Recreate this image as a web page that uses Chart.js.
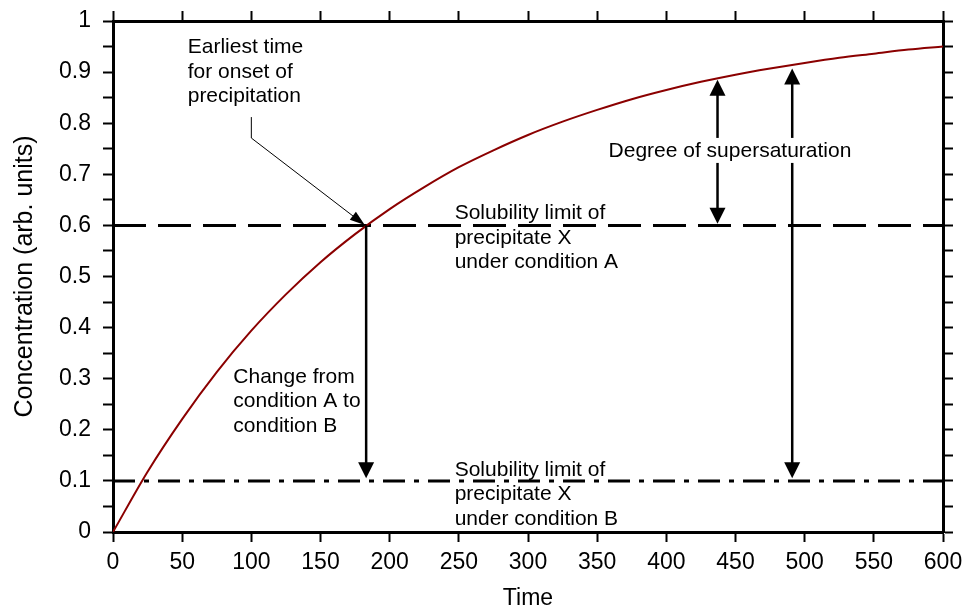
<!DOCTYPE html>
<html>
<head>
<meta charset="utf-8">
<script src="https://cdn.jsdelivr.net/npm/chart.js@4.4.0/dist/chart.umd.min.js"></script>
<style>
  html, body { margin: 0; padding: 0; background: #fff; }
  #wrap { width: 965px; height: 609px; }
</style>
</head>
<body>
<div id="wrap"><canvas id="chart"></canvas></div>
<script>
// ─── Data ─────────────────────────────────────────────────────
const timeValues = [0, 25, 50, 75, 100, 125, 150, 175, 200, 225, 250, 275, 300,
                    325, 350, 375, 400, 425, 450, 475, 500, 525, 550, 575, 600];
const concValues = [0, 0.118, 0.221, 0.313, 0.394, 0.465, 0.528, 0.583, 0.632, 0.675,
                    0.714, 0.747, 0.777, 0.803, 0.826, 0.847, 0.865, 0.881, 0.895,
                    0.907, 0.918, 0.928, 0.936, 0.944, 0.950];

const limitA = 0.6;   // solubility limit, condition A
const limitB = 0.1;   // solubility limit, condition B

const xRange = [0, 600];
const yRange = [0, 1];
const xTickStep = 50;
const yTickStep = 0.05;   // labels every 0.1

// arrows: [time, from, to]
const changeArrow = [183, 0.6, 0.105];
const superArrows = [[437, 0.603, 0.885], [491, 0.105, 0.907]];
// leader line from the "earliest time" note to the crossing point
const leaderX = [100, 100, 182];
const leaderY = [0.812, 0.771, 0.601];

const FONT = "'Liberation Sans', Arial, Helvetica, sans-serif";

// ─── Annotation texts (anchor = left end of first baseline) ──
const notes = [
  { lines: ['Earliest time', 'for onset of', 'precipitation'], x: 54, y: 0.937 },
  { lines: ['Solubility limit of', 'precipitate X', 'under condition A'], x: 247, y: 0.612 },
  { lines: ['Change from', 'condition A to', 'condition B'], x: 87, y: 0.292 },
  { lines: ['Solubility limit of', 'precipitate X', 'under condition B'], x: 247, y: 0.11 },
];
const superLabel = { text: 'Degree of supersaturation', x: 446, y: 0.734 };

function drawHead(ctx, x1, y1, x2, y2, len, half) {
  const a = Math.atan2(y2 - y1, x2 - x1);
  ctx.beginPath();
  ctx.moveTo(x2, y2);
  ctx.lineTo(x2 - len * Math.cos(a) + half * Math.sin(a), y2 - len * Math.sin(a) - half * Math.cos(a));
  ctx.lineTo(x2 - len * Math.cos(a) - half * Math.sin(a), y2 - len * Math.sin(a) + half * Math.cos(a));
  ctx.closePath();
  ctx.fill();
}

function drawArrow(ctx, x1, y1, x2, y2, both) {
  const len = 16, half = 8;
  const a = Math.atan2(y2 - y1, x2 - x1);
  const sx = both ? x1 + (len - 2) * Math.cos(a) : x1;
  const sy = both ? y1 + (len - 2) * Math.sin(a) : y1;
  ctx.beginPath();
  ctx.moveTo(sx, sy);
  ctx.lineTo(x2 - (len - 2) * Math.cos(a), y2 - (len - 2) * Math.sin(a));
  ctx.stroke();
  drawHead(ctx, x1, y1, x2, y2, len, half);
  if (both) drawHead(ctx, x2, y2, x1, y1, len, half);
}

const notesPlugin = {
  id: 'notes',
  afterDatasetsDraw(chart) {
    const { ctx, scales: { x, y } } = chart;
    ctx.save();
    ctx.strokeStyle = '#000';
    ctx.fillStyle = '#000';
    ctx.lineWidth = 2.5;

    // change arrow A -> B
    const cx = x.getPixelForValue(changeArrow[0]);
    drawArrow(ctx, cx, y.getPixelForValue(changeArrow[1]), cx, y.getPixelForValue(changeArrow[2]), false);

    // supersaturation arrows
    superArrows.forEach(([t, lo, hi]) => {
      const px = x.getPixelForValue(t);
      drawArrow(ctx, px, y.getPixelForValue(lo), px, y.getPixelForValue(hi), true);
    });

    // leader line
    ctx.lineWidth = 1;
    const lp = leaderX.map((v, i) => [x.getPixelForValue(v), y.getPixelForValue(leaderY[i])]);
    ctx.beginPath();
    ctx.moveTo(lp[0][0], lp[0][1]);
    ctx.lineTo(lp[1][0], lp[1][1]);
    ctx.lineTo(lp[2][0] - 10, lp[2][1] - 7.5);
    ctx.stroke();
    drawHead(ctx, lp[1][0], lp[1][1], lp[2][0], lp[2][1], 15, 5);

    // texts
    ctx.font = `21px ${FONT}`;
    ctx.textAlign = 'left';
    ctx.textBaseline = 'alphabetic';
    notes.forEach(n => {
      const px = x.getPixelForValue(n.x);
      const py = y.getPixelForValue(n.y);
      n.lines.forEach((l, i) => ctx.fillText(l, px, py + i * 24.5));
    });

    const sx = x.getPixelForValue(superLabel.x);
    const sy = y.getPixelForValue(superLabel.y);
    const w = ctx.measureText(superLabel.text).width;
    ctx.fillStyle = '#fff';
    ctx.fillRect(sx - w / 2 - 2, sy - 19, w + 4, 25);
    ctx.fillStyle = '#000';
    ctx.textAlign = 'center';
    ctx.fillText(superLabel.text, sx, sy);
    ctx.restore();
  }
};

const axisGrid = { drawOnChartArea: false, tickLength: 10, tickWidth: 2, color: '#000', tickColor: '#000' };
const axisBorder = { display: true, width: 3, color: '#000' };
const tickFont = { family: FONT, size: 23 };

// force the plot box to the reference position
const fixH = h => s => { s.height = h; s.paddingLeft = 0; s.paddingRight = 0; };
const fixW = w => s => { s.width = w; s.paddingTop = 0; s.paddingBottom = 0; };

new Chart(document.getElementById('chart'), {
  type: 'line',
  data: {
    datasets: [
      {
        data: timeValues.map((t, i) => ({ x: t, y: concValues[i] })),
        borderColor: '#8b0000',
        borderWidth: 2,
        pointRadius: 0,
        cubicInterpolationMode: 'monotone',
      },
      {
        data: [{ x: xRange[0], y: limitA }, { x: xRange[1], y: limitA }],
        borderColor: '#000',
        borderWidth: 3,
        borderDash: [33, 12],
        pointRadius: 0,
      },
      {
        data: [{ x: xRange[0], y: limitB }, { x: xRange[1], y: limitB }],
        borderColor: '#000',
        borderWidth: 3,
        borderDash: [22, 9, 5, 9],
        pointRadius: 0,
      },
    ]
  },
  options: {
    responsive: true,
    maintainAspectRatio: false,
    animation: false,
    layout: { padding: 0 },
    plugins: { legend: { display: false }, tooltip: { enabled: false } },
    scales: {
      x: {
        type: 'linear', position: 'bottom', min: xRange[0], max: xRange[1],
        ticks: { stepSize: xTickStep, color: '#000', font: tickFont, padding: 7, maxRotation: 0, autoSkip: false },
        grid: axisGrid, border: axisBorder,
        title: { display: true, text: 'Time', color: '#000', font: { family: FONT, size: 23 }, padding: { top: 0, bottom: -3 } },
        afterFit: fixH(77),
      },
      xTop: {
        type: 'linear', position: 'top', min: xRange[0], max: xRange[1],
        ticks: { stepSize: xTickStep, display: false },
        grid: axisGrid, border: axisBorder,
        afterFit: fixH(21),
      },
      y: {
        type: 'linear', position: 'left', min: yRange[0], max: yRange[1],
        ticks: {
          stepSize: yTickStep, color: '#000', font: tickFont, padding: 12, autoSkip: false,
          callback: v => Math.abs(v * 10 - Math.round(v * 10)) < 1e-6 ? String(Number(v.toFixed(1))) : ''
        },
        grid: axisGrid, border: axisBorder,
        title: { display: true, text: 'Concentration (arb. units)', color: '#000', font: { family: FONT, size: 25 }, padding: { top: 10, bottom: 0 } },
        afterFit: fixW(113),
      },
      yRight: {
        type: 'linear', position: 'right', min: yRange[0], max: yRange[1],
        ticks: { stepSize: yTickStep, display: false },
        grid: axisGrid, border: axisBorder,
        afterFit: fixW(22),
      },
    }
  },
  plugins: [notesPlugin]
});
</script>
</body>
</html>
